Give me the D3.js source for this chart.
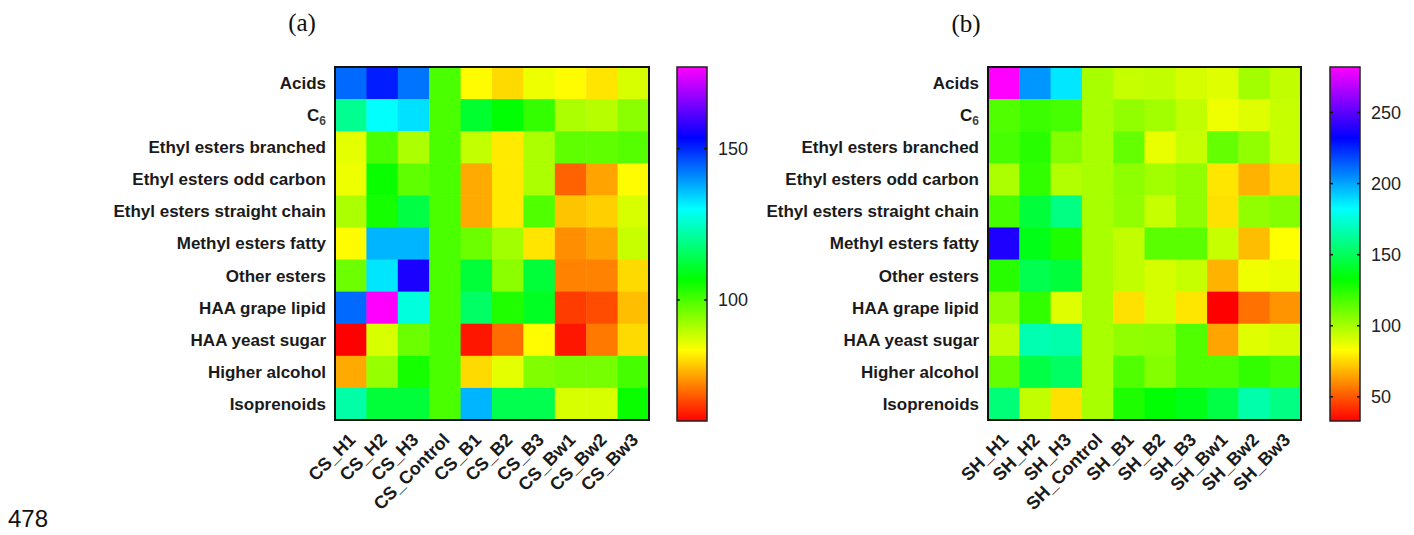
<!DOCTYPE html>
<html>
<head>
<meta charset="utf-8">
<script src="https://cdn.jsdelivr.net/npm/d3@7"></script>
<style>
  html, body { margin: 0; padding: 0; background: #fff; }
  svg { display: block; }
</style>
</head>
<body>
<svg id="chart" width="1414" height="535"></svg>
<script>
// Compound classes (rows), shared by both panels
const rows = [
  "Acids", "C6", "Ethyl esters branched", "Ethyl esters odd carbon",
  "Ethyl esters straight chain", "Methyl esters fatty", "Other esters",
  "HAA grape lipid", "HAA yeast sugar", "Higher alcohol", "Isoprenoids"
];

// Treatments (columns)
const csCols = ["CS_H1", "CS_H2", "CS_H3", "CS_Control", "CS_B1", "CS_B2", "CS_B3", "CS_Bw1", "CS_Bw2", "CS_Bw3"];
const shCols = ["SH_H1", "SH_H2", "SH_H3", "SH_Control", "SH_B1", "SH_B2", "SH_B3", "SH_Bw1", "SH_Bw2", "SH_Bw3"];

// Relative values (% of control), one row per compound class
const csValues = [
  [144, 151, 143, 100, 83, 80, 85, 83, 81, 87],
  [120, 130, 133, 100, 111, 107, 102, 91, 90, 94],
  [86, 100, 91, 100, 89, 81.5, 91, 98, 98, 99],
  [85, 106, 98, 100, 75.6, 81.5, 91, 69, 75, 83],
  [91, 105, 113, 100, 75.6, 81.5, 99.5, 78, 79, 87],
  [83, 137, 137, 100, 97, 92, 81, 73, 75, 88.5],
  [97, 132.5, 156, 100, 112, 94, 112, 72, 72, 80],
  [144, 177, 127, 100, 116, 104, 110, 65.5, 67, 77.5],
  [60, 87, 97, 100, 62, 70, 83, 62, 71, 80],
  [75.6, 93, 105, 100, 80, 86, 95, 96, 96, 100.5],
  [122, 112, 112, 100, 137, 114, 114, 87, 87, 106]
];

const shValues = [
  [282, 203, 187, 100, 94, 95, 91, 89, 101, 95],
  [117, 121, 119, 100, 104, 101, 95, 86, 89, 94],
  [119, 125, 107, 100, 113, 87, 94, 113, 104, 94],
  [99, 123, 98, 100, 105, 101, 104, 78, 68, 75],
  [119, 144, 158, 100, 104, 94, 104, 77, 104, 107],
  [238, 137, 127, 100, 95, 115, 115, 94, 70, 83],
  [125, 148, 144, 100, 95, 91, 94, 68, 86, 87],
  [104, 123, 89, 100, 77, 91, 78, 33, 55, 62],
  [95, 167, 166, 100, 104, 105, 117, 65, 89, 91],
  [113, 146, 152, 100, 117, 107, 117, 117, 123, 119],
  [156, 95, 77, 100, 127, 133, 137, 146, 166, 158]
];

// Colour-bar ranges and tick labels
const csRange = [60, 177];
const shRange = [33, 282];
const csTicks = [100, 150];
const shTicks = [50, 100, 150, 200, 250];

// Rainbow palette, low (red) to high (magenta)
const palette = ["#ff0000", "#ffff00", "#00ff00", "#00ffff", "#0000ff", "#ff00ff"];

const svg = d3.select("#chart");
const defs = svg.append("defs");
const sans = "Liberation Sans, Arial, sans-serif";

function rainbow(range) {
  const [lo, hi] = range;
  return d3.scaleLinear()
    .domain(palette.map((_, i) => lo + i * (hi - lo) / (palette.length - 1)))
    .range(palette)
    .clamp(true);
}

function drawPanel(opt) {
  const g = svg.append("g");
  const color = rainbow(opt.range);

  const x = d3.scaleBand().domain(opt.cols).range([opt.left, opt.left + opt.width]);
  const y = d3.scaleBand().domain(rows).range([opt.top, opt.top + opt.height]);

  // cells
  const cells = [];
  opt.values.forEach((r, i) => r.forEach((v, j) => cells.push({ row: rows[i], col: opt.cols[j], v })));
  g.selectAll("rect.cell").data(cells).join("rect")
    .attr("class", "cell")
    .attr("x", d => x(d.col))
    .attr("y", d => y(d.row))
    .attr("width", x.bandwidth() + 0.5)
    .attr("height", y.bandwidth() + 0.5)
    .attr("fill", d => color(d.v));

  // frame
  g.append("rect")
    .attr("x", opt.left).attr("y", opt.top)
    .attr("width", opt.width).attr("height", opt.height)
    .attr("fill", "none").attr("stroke", "#111").attr("stroke-width", 2);

  // row labels
  const rl = g.selectAll("text.row").data(rows).join("text")
    .attr("class", "row")
    .attr("x", opt.left - 9)
    .attr("y", d => y(d) + y.bandwidth() / 2)
    .attr("dy", "0.35em")
    .attr("text-anchor", "end")
    .attr("font-family", sans)
    .attr("font-weight", "bold")
    .attr("font-size", 17)
    .attr("fill", "#1a1a1a");
  rl.each(function (d) {
    const t = d3.select(this);
    if (d === "C6") {
      t.append("tspan").text("C");
      t.append("tspan").text("6").attr("font-size", 12).attr("dy", "0.3em").attr("fill", "#444");
    } else {
      t.text(d);
    }
  });

  // column labels, rotated
  g.selectAll("text.col").data(opt.cols).join("text")
    .attr("class", "col")
    .attr("transform", d => `translate(${x(d) + x.bandwidth() / 2 + 6},${opt.top + opt.height + 21}) rotate(-45)`)
    .attr("text-anchor", "end")
    .attr("font-family", sans)
    .attr("font-weight", "bold")
    .attr("font-size", 18)
    .attr("fill", "#1a1a1a")
    .text(d => d);

  // colour bar
  const gid = "grad-" + opt.id;
  const grad = defs.append("linearGradient").attr("id", gid)
    .attr("x1", 0).attr("y1", 1).attr("x2", 0).attr("y2", 0);
  d3.range(0, 1.0001, 0.02).forEach(t => {
    grad.append("stop").attr("offset", t)
      .attr("stop-color", color(opt.range[0] + t * (opt.range[1] - opt.range[0])));
  });

  const cb = opt.bar;
  const cy = d3.scaleLinear().domain(opt.range).range([cb.top + cb.height, cb.top]);
  g.append("rect")
    .attr("x", cb.left).attr("y", cb.top)
    .attr("width", cb.width).attr("height", cb.height)
    .attr("fill", `url(#${gid})`)
    .attr("stroke", "#222").attr("stroke-width", 1.5);

  const tk = g.selectAll("g.tick").data(opt.ticks).join("g").attr("class", "tick");
  tk.append("line")
    .attr("x1", cb.left).attr("x2", cb.left + 3)
    .attr("y1", d => cy(d)).attr("y2", d => cy(d))
    .attr("stroke", "#111").attr("stroke-width", 1.5);
  tk.append("line")
    .attr("x1", cb.left + cb.width - 3).attr("x2", cb.left + cb.width)
    .attr("y1", d => cy(d)).attr("y2", d => cy(d))
    .attr("stroke", "#111").attr("stroke-width", 1.5);
  tk.append("text")
    .attr("x", cb.left + cb.width + 11)
    .attr("y", d => cy(d))
    .attr("dy", "0.35em")
    .attr("font-family", sans)
    .attr("font-size", 18)
    .attr("fill", "#222")
    .text(d => d);

  // panel tag
  svg.append("text")
    .attr("x", opt.tag.x).attr("y", opt.tag.y)
    .attr("text-anchor", "middle")
    .attr("font-family", "Liberation Serif, Times New Roman, serif")
    .attr("font-size", 25)
    .attr("fill", "#111")
    .text(opt.tag.text);
}

drawPanel({
  id: "cs", cols: csCols, values: csValues, range: csRange, ticks: csTicks,
  left: 335, top: 67, width: 314, height: 353,
  bar: { left: 677, top: 67, width: 30, height: 354 },
  tag: { x: 302, y: 31, text: "(a)" }
});

drawPanel({
  id: "sh", cols: shCols, values: shValues, range: shRange, ticks: shTicks,
  left: 988, top: 67, width: 313, height: 353,
  bar: { left: 1330, top: 67, width: 30, height: 354 },
  tag: { x: 966, y: 32, text: "(b)" }
});

// page line number
svg.append("text")
  .attr("x", 8).attr("y", 527)
  .attr("font-family", "Liberation Sans, Arial, sans-serif")
  .attr("font-size", 24)
  .attr("fill", "#111")
  .text("478");
</script>
</body>
</html>
